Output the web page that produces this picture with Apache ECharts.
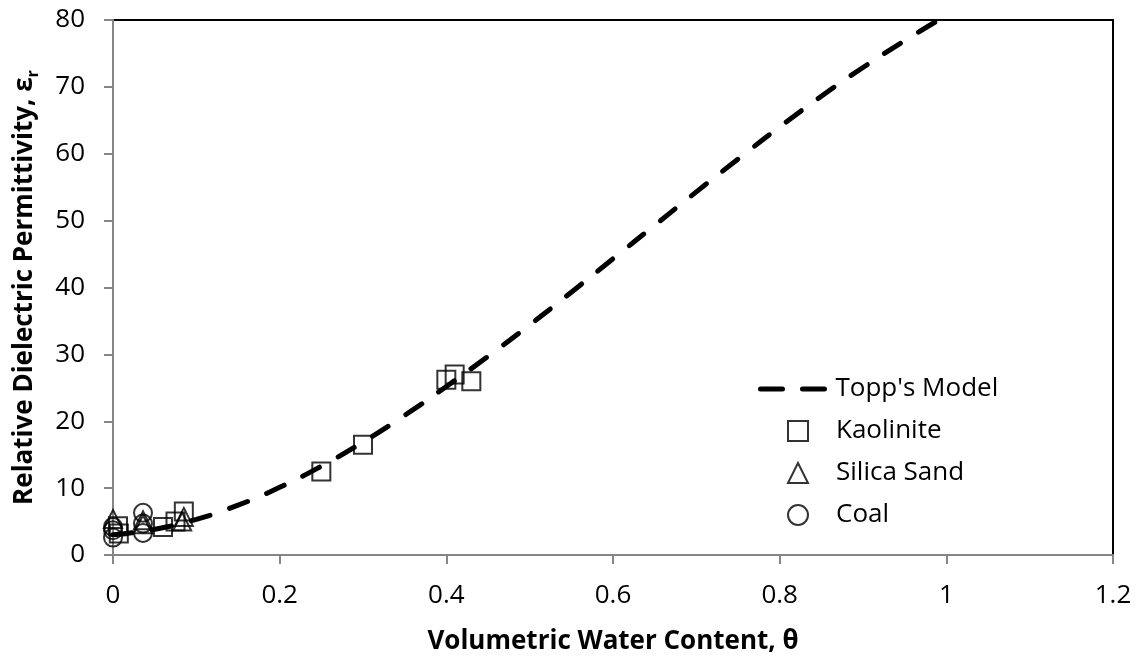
<!DOCTYPE html>
<html>
<head>
<meta charset="utf-8">
<title>Topp's Model</title>
<script src="https://cdn.jsdelivr.net/npm/echarts@6/dist/echarts.min.js"></script>
<style>
  html, body { margin: 0; padding: 0; background: #fff; }
  #chart { width: 1138px; height: 662px; }
</style>
</head>
<body>
<div id="chart"></div>
<script>
// Topp's model curve
const toppTheta = [0, 0.05, 0.1, 0.15, 0.2, 0.25, 0.3, 0.35, 0.4, 0.45, 0.5, 0.55, 0.6, 0.65, 0.7, 0.75, 0.8, 0.85, 0.9, 0.95, 1.0];
const toppEps = [3.03, 3.85, 5.34, 7.45, 10.12, 13.28, 16.89, 20.88, 25.2, 29.7, 34.4, 39.3, 44.3, 49.3, 54.3, 59.2, 64.0, 68.6, 72.9, 76.9, 80.7];

// measured points
const kaoTheta = [0.006, 0.007, 0.06, 0.075, 0.085, 0.25, 0.30, 0.40, 0.41, 0.43];
const kaoEps = [4.3, 3.2, 4.2, 5.0, 6.5, 12.5, 16.5, 26.2, 27.0, 26.0];
const sandTheta = [0, 0.036, 0.036, 0.085, 0.083];
const sandEps = [5.4, 5.2, 4.6, 5.7, 5.0];
const coalTheta = [0, 0, 0, 0.036, 0.036, 0.036];
const coalEps = [2.6, 3.7, 4.2, 6.3, 4.7, 3.3];

const xTicks = [0, 0.2, 0.4, 0.6, 0.8, 1, 1.2];
const yTicks = [0, 10, 20, 30, 40, 50, 60, 70, 80];

const font = '"Open Sans", "Noto Sans", sans-serif';
const dash = [19, 21];

function pairs(xs, ys) {
  return xs.map((x, i) => [x, ys[i]]);
}

const chart = echarts.init(document.getElementById('chart'), null, { renderer: 'canvas' });

const markerStyle = {
  color: 'rgba(0,0,0,0)',
  borderColor: '#000',
  borderWidth: 2
};

let option = {
  backgroundColor: '#fff',
  animation: false,
  textStyle: { fontFamily: font, color: '#000' },
  grid: {
    left: 113,
    right: 25,
    top: 20,
    bottom: 107,
    show: true,
    borderColor: '#000',
    borderWidth: 2
  },
  legend: [
    {
      data: ["Topp's Model"],
      orient: 'vertical',
      left: 753,
      top: 371,
      itemWidth: 66,
      itemHeight: 14,
      itemGap: 17,
      itemStyle: { opacity: 0 },
      textStyle: { fontFamily: font, fontSize: 26, color: '#000', padding: [0, 0, 0, 4] },
      lineStyle: { type: [22, 20], width: 5, color: '#000', cap: 'round' }
    },
    {
      data: ['Kaolinite', 'Silica Sand', 'Coal'],
      orient: 'vertical',
      left: 782,
      top: 413,
      itemWidth: 20,
      itemHeight: 20,
      itemGap: 16,
      itemStyle: { color: 'rgba(0,0,0,0)', borderColor: '#000', borderWidth: 2 },
      textStyle: { fontFamily: font, fontSize: 26, color: '#000', padding: [0, 0, 0, 23] }
    }
  ],
  xAxis: {
    type: 'value',
    min: xTicks[0],
    max: xTicks[xTicks.length - 1],
    interval: 0.2,
    name: 'Volumetric Water Content, θ',
    nameLocation: 'middle',
    nameGap: 74,
    nameTextStyle: { fontFamily: font, fontSize: 26, fontWeight: 'bold', color: '#000' },
    axisLine: { show: true, lineStyle: { color: '#868686', width: 2 } },
    axisTick: { show: true, inside: false, length: 9, lineStyle: { color: '#868686', width: 2 } },
    axisLabel: { fontFamily: font, fontSize: 26, color: '#000', margin: 28 },
    splitLine: { show: false }
  },
  yAxis: {
    type: 'value',
    min: yTicks[0],
    max: yTicks[yTicks.length - 1],
    interval: 10,
    name: '{a|Relative Dielectric Permittivity, ε}{b|r}',
    nameLocation: 'middle',
    nameGap: 72,
    nameTextStyle: {
      rich: {
        a: { fontFamily: font, fontSize: 26, fontWeight: 'bold', color: '#000', lineHeight: 32 },
        b: { fontFamily: font, fontSize: 16, fontWeight: 'bold', color: '#000', verticalAlign: 'bottom', lineHeight: 22 }
      }
    },
    axisLine: { show: true, lineStyle: { color: '#868686', width: 2 } },
    axisTick: { show: true, inside: false, length: 9, lineStyle: { color: '#868686', width: 2 } },
    axisLabel: { fontFamily: font, fontSize: 26, color: '#000', margin: 28 },
    splitLine: { show: false }
  },
  series: [
    {
      name: "Topp's Model",
      type: 'line',
      data: pairs(toppTheta, toppEps),
      smooth: true,
      showSymbol: false,
      symbol: 'none',
      clip: true,
      itemStyle: { color: '#000' },
      lineStyle: { color: '#000', width: 5, type: dash, cap: 'round' },
      z: 1
    },
    {
      name: 'Kaolinite',
      type: 'scatter',
      symbol: 'rect',
      symbolSize: 18,
      data: pairs(kaoTheta, kaoEps),
      itemStyle: markerStyle,
      z: 3
    },
    {
      name: 'Silica Sand',
      type: 'scatter',
      symbol: 'triangle',
      symbolSize: 18,
      data: pairs(sandTheta, sandEps),
      itemStyle: markerStyle,
      z: 3
    },
    {
      name: 'Coal',
      type: 'scatter',
      symbol: 'circle',
      symbolSize: 18,
      data: pairs(coalTheta, coalEps),
      itemStyle: markerStyle,
      z: 3
    }
  ]
};

chart.setOption(option);
</script>
</body>
</html>
